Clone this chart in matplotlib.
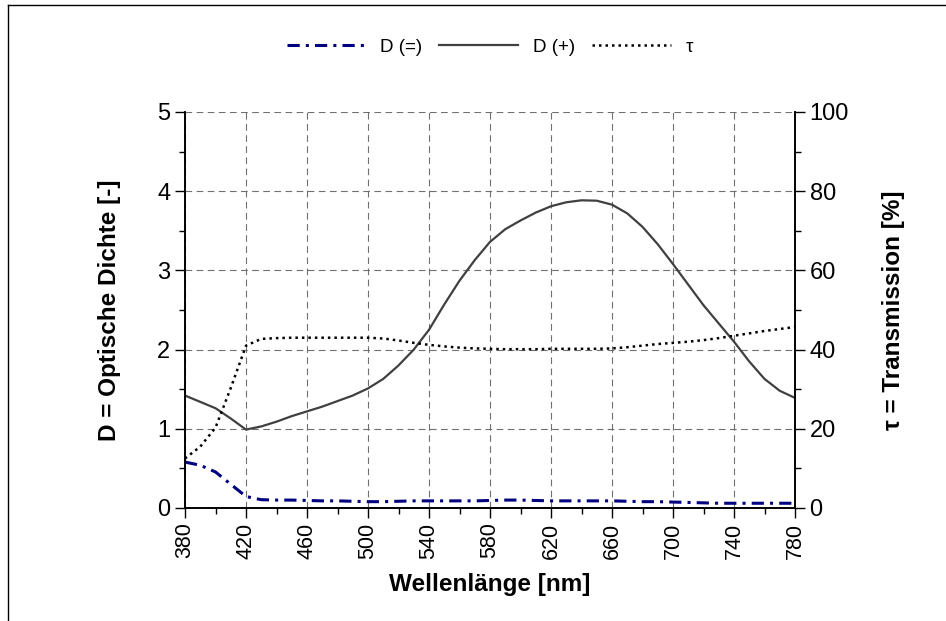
#!/usr/bin/env python3
"""Optische Dichte und Transmission ueber der Wellenlaenge."""
import matplotlib
matplotlib.use("Agg")
import matplotlib.pyplot as plt
import numpy as np
from matplotlib.lines import Line2D
from matplotlib.ticker import MultipleLocator, FixedLocator

plt.rcParams.update({
    "font.family": ["Liberation Sans", "DejaVu Sans"],
    "font.size": 15,
})

# Wellenlaenge [nm]
wl = [380, 390, 400, 410, 420, 430, 440, 450, 460, 470,
      480, 490, 500, 510, 520, 530, 540, 550, 560, 570,
      580, 590, 600, 610, 620, 630, 640, 650, 660, 670,
      680, 690, 700, 710, 720, 730, 740, 750, 760, 770, 780]

# D (+) optische Dichte
d_plus = [1.42, 1.34, 1.26, 1.13, 0.99, 1.03, 1.09, 1.16, 1.22, 1.28,
          1.35, 1.42, 1.51, 1.63, 1.80, 2.00, 2.25, 2.57, 2.87, 3.13,
          3.36, 3.52, 3.63, 3.73, 3.81, 3.86, 3.885, 3.88, 3.83, 3.72,
          3.55, 3.33, 3.08, 2.82, 2.56, 2.33, 2.10, 1.85, 1.63, 1.48, 1.39]

# D (=) optische Dichte
d_eq = [0.58, 0.54, 0.455, 0.30, 0.145, 0.105, 0.10, 0.10, 0.095, 0.09,
        0.09, 0.085, 0.08, 0.08, 0.085, 0.09, 0.09, 0.09, 0.09, 0.09,
        0.095, 0.10, 0.10, 0.095, 0.09, 0.09, 0.09, 0.09, 0.09, 0.085,
        0.08, 0.08, 0.075, 0.07, 0.065, 0.06, 0.06, 0.06, 0.06, 0.06, 0.06]

# tau Transmission [%]
tau = [12.5, 15.5, 20.3, 30.3, 41.0, 42.7, 42.9, 43.0, 43.0, 43.0,
       43.0, 43.0, 43.0, 42.8, 42.3, 41.7, 41.2, 40.8, 40.5, 40.3,
       40.2, 40.1, 40.1, 40.1, 40.2, 40.2, 40.2, 40.2, 40.3, 40.6,
       41.0, 41.4, 41.7, 42.0, 42.4, 42.9, 43.5, 44.1, 44.7, 45.2, 45.7]


def main():
    fig = plt.figure(figsize=(9.46, 6.21), dpi=100)
    ax = fig.add_axes([185 / 946, 1 - 508 / 621, 610 / 946, 396 / 621])
    ax2 = ax.twinx()

    l_eq, = ax.plot(wl, d_eq, color="#000080", lw=2.2,
                    linestyle=(0, (4, 2, 1, 2)), label="D (=)")
    l_plus, = ax.plot(wl, d_plus, color="#404040", lw=1.6,
                      linestyle="-", label="D (+)")
    l_tau, = ax2.plot(wl, tau, color="black", lw=1.8,
                      linestyle=(0, (1, 1.6)), label="τ")

    ax.set_xlim(380, 780)
    ax.set_ylim(0, 5)
    ax2.set_ylim(0, 100)

    ax.xaxis.set_major_locator(FixedLocator(np.arange(380, 781, 40)))
    ax.xaxis.set_minor_locator(FixedLocator(np.arange(400, 781, 40)))
    ax.yaxis.set_major_locator(MultipleLocator(1))
    ax.yaxis.set_minor_locator(MultipleLocator(0.5))
    ax2.yaxis.set_major_locator(MultipleLocator(20))
    ax2.yaxis.set_minor_locator(MultipleLocator(10))

    ax.grid(True, which="major", color="#707070", lw=0.8,
            linestyle=(0, (6, 4)))
    ax.tick_params(axis="x", labelrotation=90, labelsize=15.5)
    ax.tick_params(axis="y", labelsize=17)
    ax.tick_params(which="major", direction="out", length=7, width=1)
    ax.tick_params(which="minor", direction="out", length=4, width=1)
    ax2.tick_params(which="major", direction="out", length=7, width=1,
                    labelsize=17)
    ax2.tick_params(which="minor", direction="out", length=4, width=1)

    for a in (ax, ax2):
        a.spines["top"].set_visible(False)
        for s in ("left", "right", "bottom"):
            a.spines[s].set_linewidth(1.2)

    ax.set_xlabel("Wellenlänge [nm]", fontweight="bold", fontsize=17.5,
                  labelpad=10)
    ax.set_ylabel("D = Optische Dichte [-]", fontweight="bold", fontsize=17.5,
                  labelpad=26)
    ax2.set_ylabel("τ = Transmission [%]", fontweight="bold", fontsize=17.5,
                   rotation=90, labelpad=24)

    fig.legend(handles=[l_eq, l_plus, l_tau], loc="center",
               bbox_to_anchor=(490 / 946, 1 - 47 / 621), ncol=3,
               frameon=False, fontsize=13.5, handlelength=4.2,
               handletextpad=0.8, columnspacing=0.9)

    # Rahmen um die Grafik
    fig.add_artist(Line2D([8 / 946, 1.01], [1 - 5 / 621, 1 - 5 / 621],
                          transform=fig.transFigure, color="black", lw=1))
    fig.add_artist(Line2D([8 / 946, 8 / 946], [-0.01, 1 - 5 / 621],
                          transform=fig.transFigure, color="black", lw=1))

    fig.savefig("out.png", dpi=100)


if __name__ == "__main__":
    main()
